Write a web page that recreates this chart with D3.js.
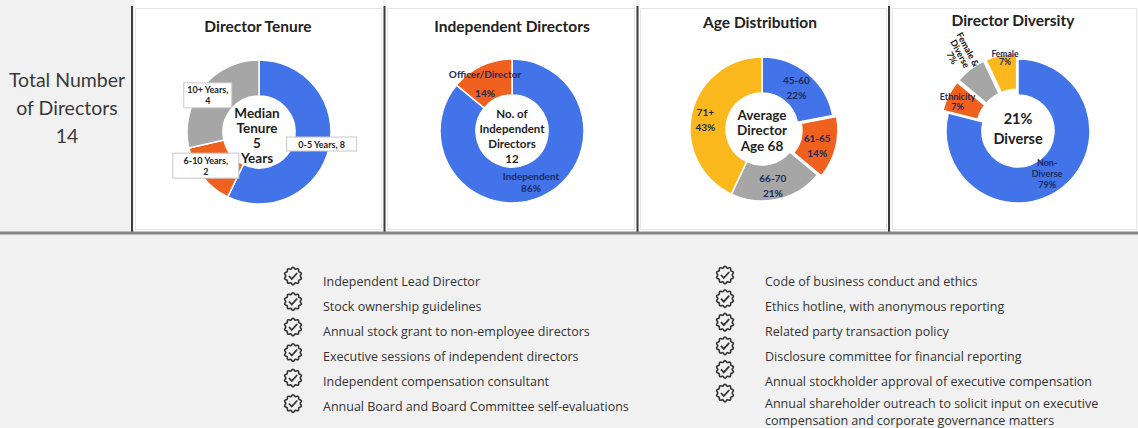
<!DOCTYPE html>
<html><head><meta charset="utf-8">
<script src="https://cdn.jsdelivr.net/npm/d3@7"></script>
<style>
body{margin:0;background:#fff;}
svg{display:block;}
text{font-family:Lato,"Open Sans",sans-serif;}
</style>
</head><body>
<svg id="c" width="1138" height="428"></svg>
<script>
// ---------------- DATA ----------------
const totalDirectors = 14;
const tenureLabels = ["0-5 Years", "6-10 Years", "10+ Years"];
const tenureValues = [8, 2, 4];
const medianTenure = 5;
const independenceLabels = ["Independent", "Officer/Director"];
const independenceValues = [86, 14];
const independentCount = 12;
const ageLabels = ["45-60", "61-65", "66-70", "71+"];
const ageValues = [22, 14, 21, 43];
const averageAge = 68;
const diversityLabels = ["Non-Diverse", "Ethnicity", "Female & Diverse", "Female"];
const diversityValues = [79, 7, 7, 7];
const diversePct = 21;
const chartTitles = ["Director Tenure", "Independent Directors", "Age Distribution", "Director Diversity"];
const practicesLeft = [
  "Independent Lead Director",
  "Stock ownership guidelines",
  "Annual stock grant to non-employee directors",
  "Executive sessions of independent directors",
  "Independent compensation consultant",
  "Annual Board and Board Committee self-evaluations"
];
const practicesRight = [
  "Code of business conduct and ethics",
  "Ethics hotline, with anonymous reporting",
  "Related party transaction policy",
  "Disclosure committee for financial reporting",
  "Annual stockholder approval of executive compensation",
  "Annual shareholder outreach to solicit input on executive\ncompensation and corporate governance matters"
];

// ---------------- STYLE ----------------
const BLUE = "#4273e8", ORANGE = "#f0601e", GRAY = "#a6a6a6", YELLOW = "#fbb81c";
const NAVY = "#1c2b5a", DARK = "#1e1e1e";

const svg = d3.select("#c");
svg.append("rect").attr("x",0).attr("y",0).attr("width",1138).attr("height",428).attr("fill","#f1f1f1");
const panels = [[134,383],[386,636],[639,888],[891,1138]];
panels.forEach(([a,b])=>{
  svg.append("rect").attr("x",a).attr("y",0).attr("width",b-a).attr("height",232).attr("fill","#fff");
  svg.append("rect").attr("x",a+1.5).attr("y",8.5).attr("width",b-a-3).attr("height",221).attr("fill","none").attr("stroke","#e6e6e6");
});
[132,384.5,637.5,889].forEach(x=>{
  svg.append("line").attr("x1",x).attr("x2",x).attr("y1",6).attr("y2",233).attr("stroke","#3c3c3c").attr("stroke-width",2);
});
svg.append("line").attr("x1",0).attr("x2",1138).attr("y1",233).attr("y2",233).attr("stroke","#858585").attr("stroke-width",3);

// left panel
const lp = svg.append("g").attr("fill","#3a3a3a").attr("font-size",19.5).attr("text-anchor","middle");
["Total Number","of Directors", String(totalDirectors)].forEach((t,i)=>{
  lp.append("text").attr("x",67).attr("y",[79,107,135][i]).attr("dominant-baseline","central").text(t);
});

// titles
const titlePos = [[258,26],[512,26],[760,22],[1013,20]];
chartTitles.forEach((t,i)=>{
  svg.append("text").attr("x",titlePos[i][0]).attr("y",titlePos[i][1]).attr("text-anchor","middle")
    .attr("dominant-baseline","central").attr("font-size",15.5).attr("font-weight",700).attr("fill","#222").text(t);
});

function donut(cfg){
  const g = svg.append("g").attr("transform",`translate(${cfg.cx},${cfg.cy})`);
  const pie = d3.pie().sort(null).value(d=>d.v)(cfg.labels.map((l,i)=>({l, v:cfg.values[i], i})));
  const arc = d3.arc().innerRadius(36).outerRadius(72);
  const off = d => {
    const e = (cfg.explode||[])[d.index]||0;
    const m = (d.startAngle+d.endAngle)/2;
    return [e*Math.sin(m), -e*Math.cos(m)];
  };
  g.selectAll("path.s").data(pie).join("path").attr("class","s")
    .attr("d",arc).attr("fill",d=>cfg.colors[d.index])
    .attr("stroke","#fff").attr("stroke-width",1.5)
    .attr("transform",d=>`translate(${off(d)})`);
  pie.forEach(d=>{
    const c = arc.centroid(d), o = off(d);
    const n = cfg.nudge[d.index];
    const x = c[0]+o[0]+n[0], y = c[1]+o[1]+n[1];
    const lines = cfg.labelText(d.data);
    const lh = n[2]||cfg.lh;
    const lg = g.append("g").attr("transform",`translate(${x},${y})` + (n[3]?` rotate(${n[3]})`:""));
    if(cfg.boxed){
      const w = n[4], h = lines.length*lh+3;
      lg.append("rect").attr("x",-w/2).attr("y",-h/2).attr("width",w).attr("height",h)
        .attr("fill","#fff").attr("stroke","#c8c8c8").attr("stroke-width",1);
    }
    lines.forEach((t,k)=>{
      lg.append("text").attr("x",0).attr("y",(k-(lines.length-1)/2)*lh)
        .attr("text-anchor","middle").attr("dominant-baseline","central")
        .attr("font-size",n[5]||cfg.fs).attr("font-weight",700).attr("fill",n[6]||cfg.labelColor).text(t);
    });
  });
  cfg.center.forEach((t,k)=>{
    g.append("text").attr("x",cfg.centerDx||0).attr("y",cfg.centerY[k]).attr("text-anchor","middle")
      .attr("dominant-baseline","central").attr("font-size",cfg.centerFs).attr("font-weight",700)
      .attr("fill",DARK).text(t);
  });
}

donut({
  cx:259, cy:132, labels:tenureLabels, values:tenureValues, colors:[BLUE,ORANGE,GRAY],
  labelText:d=> d.i===0 ? [`${d.l}, ${d.v}`] : [`${d.l},`, String(d.v)],
  nudge:[[10,0,0,0,70],[-11,0,0,0,66],[-9,-3,0,0,48]], lh:11, fs:9, boxed:true, labelColor:"#222",
  center:["Median","Tenure",String(medianTenure),"Years"], centerY:[-19,-4,11,26], centerFs:13.5, centerDx:-2
});

donut({
  cx:512, cy:131, labels:independenceLabels, values:independenceValues, colors:[BLUE,ORANGE],
  labelText:d=>[d.l, d.v+"%"],
  nudge:[[-4,2,12],[-4,1,19]], lh:12, fs:10, labelColor:NAVY,
  center:["No. of","Independent","Directors",String(independentCount)], centerY:[-18,-3,12,27], centerFs:11.5
});

donut({
  cx:762, cy:129, labels:ageLabels, values:ageValues, colors:[BLUE,ORANGE,GRAY,YELLOW],
  explode:[0,4,0,0],
  labelText:d=>[d.l, d.v+"%"],
  nudge:[[0,0],[-1,2],[-1,4],[-4,2]], lh:15, fs:10, labelColor:NAVY,
  center:["Average","Director","Age "+averageAge], centerY:[-14,1,17], centerFs:13.5
});

donut({
  cx:1018, cy:131, labels:diversityLabels, values:diversityValues, colors:[BLUE,ORANGE,GRAY,YELLOW],
  explode:[0,6,6,6],
  labelText:d=> d.i===0 ? ["Non-","Diverse",d.v+"%"] : d.i===2 ? ["Female &","Diverse",d.v+"%"] : [d.l, d.v+"%"],
  nudge:[[-4,0,11],[-7,-2,10],[-21,-30,9,62,0,9,"#111"],[0,-14,8,0,0,8.5]], lh:10, fs:9, labelColor:NAVY,
  center:[diversePct+"%","Diverse"], centerY:[-13,7], centerFs:14.5
});

// ---------------- practices list ----------------
const badgePts = d3.range(0, 2*Math.PI, Math.PI/30).map(a=>[a, 8 + 0.8*Math.cos(10*a)]);
const badge = d3.lineRadial().curve(d3.curveCardinalClosed).angle(d=>d[0]).radius(d=>d[1])(badgePts);
function icon(x,y){
  const g = svg.append("g").attr("transform",`translate(${x},${y})`).attr("fill","none").attr("stroke","#333").attr("stroke-width",1.6);
  g.append("path").attr("d",badge);
  g.append("path").attr("d","M-4,0 L-1.2,3 L4.2,-3").attr("stroke-width",1.8);
}
function list(items, iconX, textX, iconY0, iconStep){
  items.forEach((t,i)=>{
    icon(iconX, iconY0 + i*iconStep);
    const parts = t.split("\n");
    const tx = svg.append("text").attr("y",281 + i*24.9 - (parts.length-1)*2.5).attr("dominant-baseline","central")
      .style("font-family","'Open Sans',sans-serif").attr("font-size",12.5).attr("fill","#333");
    parts.forEach((line,k)=>{
      tx.append("tspan").attr("x",textX).attr("dy",k===0?0:17).text(line);
    });
  });
}
list(practicesLeft, 293, 323, 276, 25.5);
list(practicesRight, 725, 765, 275, 23.6);
</script>
</body></html>
